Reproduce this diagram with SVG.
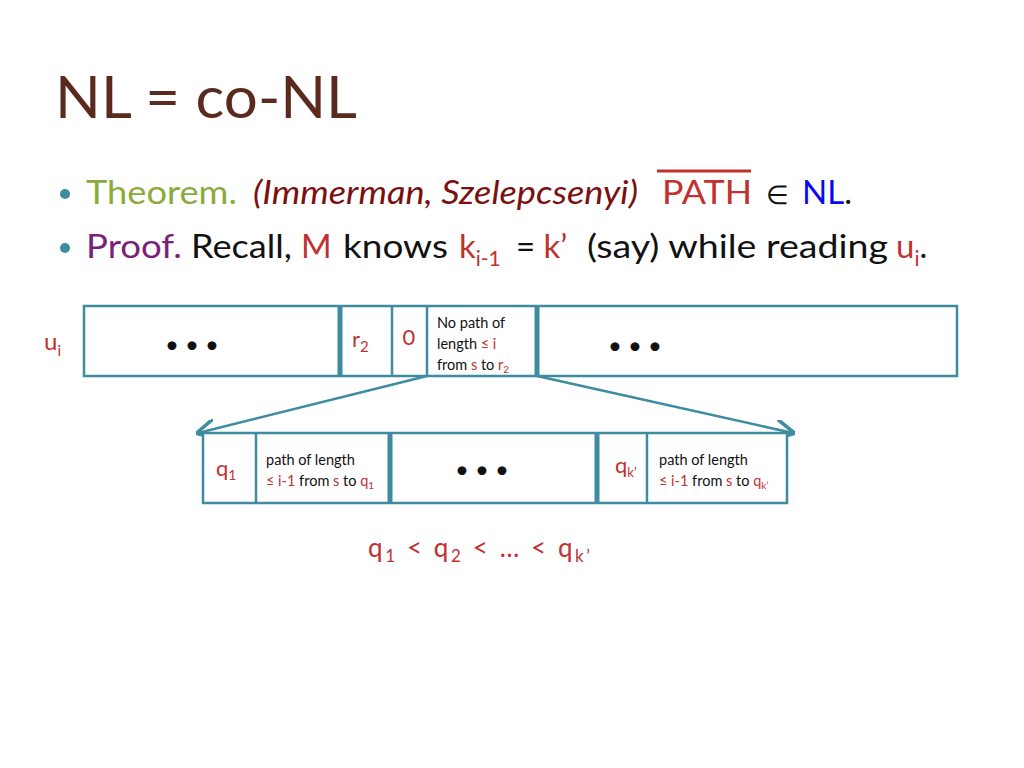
<svg xmlns="http://www.w3.org/2000/svg" width="1024" height="768" viewBox="0 0 1024 768">
<style>
text{font-family:"Lato","Liberation Sans",sans-serif}
.r{fill:#c0312f}.k{fill:#111}
.box{fill:#fff;stroke:#3d8ca0;stroke-width:2.5}
.th{stroke:#3d8ca0;stroke-width:5}.tn{stroke:#3d8ca0;stroke-width:2.5}
.sm{font-size:14.5px}
.b{font-size:33px}
</style>
<defs><marker id="a" viewBox="0 0 10 10" refX="9" refY="5" markerWidth="8" markerHeight="8" orient="auto"><path d="M0,0 L10,5 L0,10" fill="none" stroke="#3d8ca0" stroke-width="1.8"/></marker></defs>
<rect width="1024" height="768" fill="#fff"/>
<text x="55" y="118" font-size="58" fill="#5a2a1e" textLength="302" lengthAdjust="spacingAndGlyphs">NL = co-NL</text>
<circle cx="65" cy="194" r="5" fill="#3d8ca0"/>
<circle cx="65" cy="248" r="5" fill="#3d8ca0"/>
<text class="b" x="86" y="204" fill="#8aab3c" textLength="151" lengthAdjust="spacingAndGlyphs">Theorem.</text>
<text class="b" x="253" y="204" fill="#7a1010" font-style="italic" textLength="385" lengthAdjust="spacingAndGlyphs">(Immerman, Szelepcsenyi)</text>
<text class="b" x="662" y="204" fill="#c0312f" textLength="90" lengthAdjust="spacingAndGlyphs">PATH</text>
<text x="766" y="204" fill="#111" font-size="26">∈</text>
<text class="b" x="802" y="204"><tspan fill="#0a0af0">NL</tspan><tspan class="k">.</tspan></text>
<line x1="657" y1="171" x2="751" y2="171" stroke="#c0312f" stroke-width="3"/>
<text class="b" x="86" y="258" fill="#7b1f7b" textLength="96" lengthAdjust="spacingAndGlyphs">Proof.</text>
<text class="b k" x="191" y="258" textLength="101" lengthAdjust="spacingAndGlyphs">Recall,</text>
<text class="b r" x="301" y="258">M</text>
<text class="b k" x="343" y="258" textLength="105" lengthAdjust="spacingAndGlyphs">knows</text>
<text class="b r" x="459" y="258">k<tspan font-size="21" dy="8">i-1</tspan></text>
<text class="b" x="516" y="258"><tspan class="k">= </tspan><tspan class="r">k’</tspan></text>
<text class="b k" x="587" y="258" textLength="301" lengthAdjust="spacingAndGlyphs">(say) while reading</text>
<text class="b" x="896" y="258"><tspan class="r">u</tspan><tspan class="r" font-size="21" dy="8">i</tspan><tspan class="k" dy="-8">.</tspan></text>
<g id="ui">
<rect class="box" x="84" y="306" width="873" height="70"/>
<line class="th" x1="340" y1="306" x2="340" y2="376"/>
<line class="tn" x1="392" y1="306" x2="392" y2="376"/>
<line class="tn" x1="427" y1="306" x2="427" y2="376"/>
<line class="th" x1="537" y1="306" x2="537" y2="376"/>
<text x="44" y="350" font-size="24" class="r">u<tspan font-size="15" dy="6">i</tspan></text>
<text x="192" y="353" font-size="24" class="k" text-anchor="middle">• • •</text>
<text x="352" y="347" font-size="22" class="r">r<tspan font-size="15" dy="5">2</tspan></text>
<text x="409" y="345" font-size="22" class="r" text-anchor="middle">0</text>
<text x="437" y="328" class="sm k">No path of</text>
<text x="437" y="349" class="sm k">length <tspan class="r">≤ i</tspan></text>
<text x="437" y="370" class="sm k">from <tspan class="r">s</tspan> to <tspan class="r">r<tspan font-size="10" dy="3">2</tspan></tspan></text>
<text x="635" y="354" font-size="24" class="k" text-anchor="middle">• • •</text>
</g>
<g id="connectors" stroke="#3d8ca0" stroke-width="2.5" fill="none">
<line x1="427" y1="376" x2="198" y2="433" marker-end="url(#a)"/>
<line x1="537" y1="376" x2="793" y2="433" marker-end="url(#a)"/>
</g>
<g id="q">
<rect class="box" x="203" y="433" width="584" height="70"/>
<line class="tn" x1="256" y1="433" x2="256" y2="503"/>
<line class="th" x1="390" y1="433" x2="390" y2="503"/>
<line class="th" x1="597" y1="433" x2="597" y2="503"/>
<line class="tn" x1="647" y1="433" x2="647" y2="503"/>
<text x="216" y="476" font-size="22" class="r">q<tspan font-size="14" dy="4">1</tspan></text>
<text x="266" y="465" class="sm k">path of length</text>
<text x="266" y="486" class="sm k"><tspan class="r">≤ i-1</tspan> from <tspan class="r">s</tspan> to <tspan class="r">q<tspan font-size="10" dy="3">1</tspan></tspan></text>
<text x="482" y="478" font-size="24" class="k" text-anchor="middle">• • •</text>
<text x="615" y="473" font-size="22" class="r">q<tspan font-size="13" dy="4">k’</tspan></text>
<text x="659" y="465" class="sm k">path of length</text>
<text x="659" y="486" class="sm k"><tspan class="r">≤ i-1</tspan> from <tspan class="r">s</tspan> to <tspan class="r">q<tspan font-size="10" dy="3">k’</tspan></tspan></text>
</g>
<text x="368" y="557" font-size="26" class="r" textLength="222" lengthAdjust="spacing">q<tspan font-size="17" dy="5">1</tspan><tspan dy="-5"> &lt; q</tspan><tspan font-size="17" dy="5">2</tspan><tspan dy="-5"> &lt; … &lt; q</tspan><tspan font-size="17" dy="5">k’</tspan></text>
</svg>
